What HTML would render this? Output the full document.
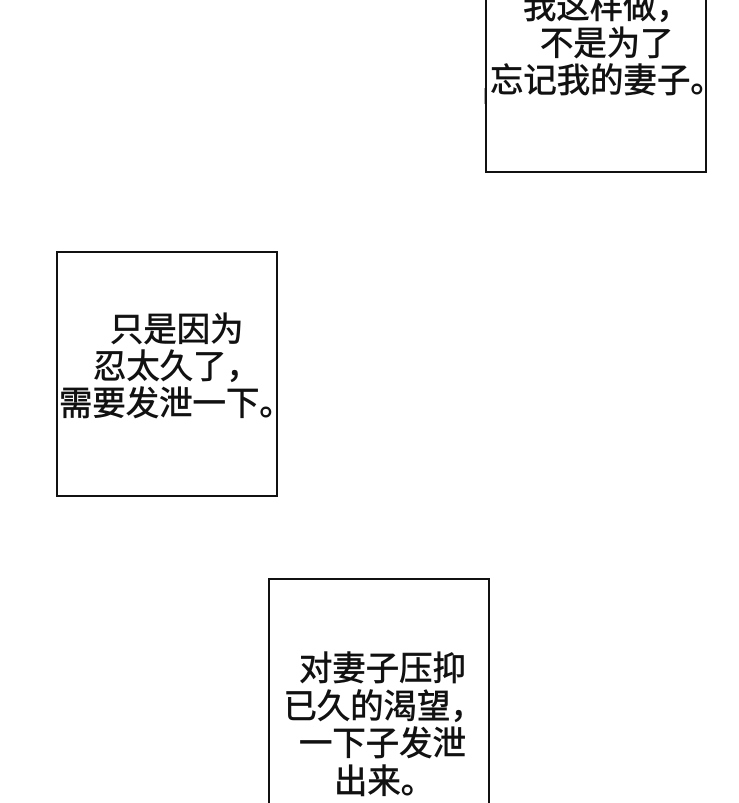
<!DOCTYPE html>
<html lang="zh">
<head>
<meta charset="utf-8">
<style>
html,body{margin:0;padding:0;background:#fff;width:739px;height:803px;overflow:hidden;}
body{position:relative;}
.b{position:absolute;box-sizing:border-box;border:2px solid #111;background:#fff;}
.t{position:absolute;white-space:nowrap;font-family:"Liberation Sans","Noto Sans CJK SC",sans-serif;font-size:33.4px;line-height:38px;height:38px;color:#111;font-weight:400;-webkit-text-stroke:0.65px #111;}
</style>
</head>
<body>
<div class="b" style="left:485px;top:-10px;width:222px;height:183px;"></div>
<div style="position:absolute;left:484px;top:88px;width:1px;height:16px;background:#aaa;"></div>
<div class="b" style="left:56px;top:251px;width:222px;height:246px;"></div>
<div class="b" style="left:268px;top:578px;width:222px;height:225px;border-bottom:none;"></div>

<div class="t" style="left:523px;top:-11px;">我这样做，</div>
<div class="t" style="left:540px;top:26px;">不是为了</div>
<div class="t" style="left:490px;top:63px;">忘记我的妻子。</div>

<div class="t" style="left:110px;top:312px;">只是因为</div>
<div class="t" style="left:93px;top:349px;">忍太久了，</div>
<div class="t" style="left:59px;top:386px;">需要发泄一下。</div>

<div class="t" style="left:299px;top:651px;">对妻子压抑</div>
<div class="t" style="left:283.5px;top:689px;">已久的渴望，</div>
<div class="t" style="left:299px;top:726px;">一下子发泄</div>
<div class="t" style="left:334px;top:764px;">出来。</div>
</body>
</html>
